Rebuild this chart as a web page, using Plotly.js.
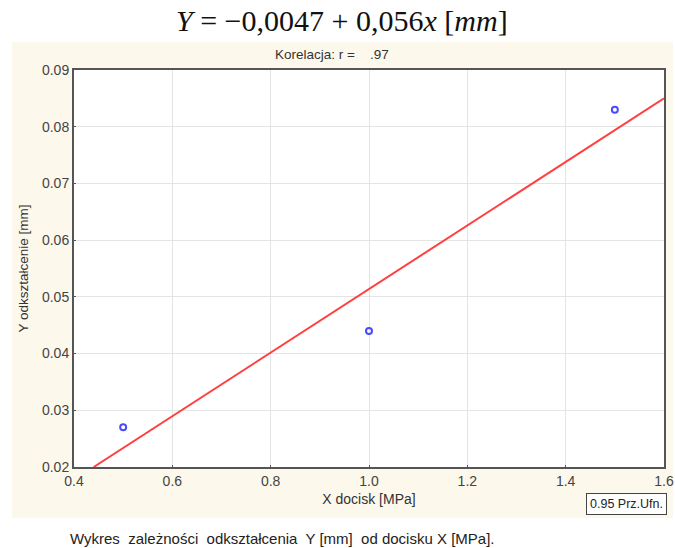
<!DOCTYPE html>
<html>
<head>
<meta charset="utf-8">
<script src="https://cdn.plot.ly/plotly-3.0.1.min.js"></script>
<style>html,body{margin:0;padding:0;background:#fff;}#chart{width:675px;height:548px;}</style>
</head>
<body>
<div id="chart"></div>
<script>
// Data
const pressureMPa = [0.5, 1.0, 1.5];
const deformationMm = [0.027, 0.044, 0.083];
const fitX = [0.44, 1.6];
const fitY = [0.02, 0.085];
const xTicks = [0.4, 0.6, 0.8, 1.0, 1.2, 1.4, 1.6];
const xTickLabels = ['0.4', '0.6', '0.8', '1.0', '1.2', '1.4', '1.6'];
const yTicks = [0.02, 0.03, 0.04, 0.05, 0.06, 0.07, 0.08, 0.09];
const yTickLabels = ['0.02', '0.03', '0.04', '0.05', '0.06', '0.07', '0.08', '0.09'];

const W = 675, H = 548, L = 74, R = 11, T = 70, B = 81;
const pw = W - L - R, ph = H - T - B;
const px = x => (x - L) / pw;
const py = y => (H - B - y) / ph;

const traces = [
  {x: fitX, y: fitY, mode: 'lines', line: {color: '#ff4040', width: 2}, hoverinfo: 'skip'},
  {x: pressureMPa, y: deformationMm, mode: 'markers',
   marker: {symbol: 'circle-open', size: 6, color: '#4a4aff', line: {width: 2, color: '#4a4aff'}}}
];

const sans = 'Liberation Sans, Arial, sans-serif';
const layout = {
  width: W, height: H,
  margin: {l: L, r: R, t: T, b: B},
  paper_bgcolor: '#ffffff',
  plot_bgcolor: 'rgba(0,0,0,0)',
  showlegend: false,
  font: {family: sans, size: 14, color: '#444'},
  xaxis: {
    range: [0.4, 1.6], tickvals: xTicks, ticktext: xTickLabels,
    showgrid: true, gridcolor: '#e4e4e4', gridwidth: 1,
    showline: true, linecolor: '#555', linewidth: 2, mirror: true,
    ticks: 'inside', ticklen: 2, tickcolor: '#555', zeroline: false,
    tickfont: {family: sans, size: 14, color: '#444'},
    title: {text: 'X docisk [MPa]', font: {family: sans, size: 14, color: '#333'}, standoff: 6}
  },
  yaxis: {
    range: [0.02, 0.09], tickvals: yTicks, ticktext: yTickLabels,
    showgrid: true, gridcolor: '#e4e4e4', gridwidth: 1,
    showline: true, linecolor: '#555', linewidth: 2, mirror: true,
    ticks: 'inside', ticklen: 2, tickcolor: '#555', zeroline: false,
    tickfont: {family: sans, size: 14, color: '#444'},
    title: {text: 'Y odkształcenie [mm]', font: {family: sans, size: 13.5, color: '#333'}, standoff: 10}
  },
  shapes: [
    {type: 'rect', xref: 'paper', yref: 'paper', layer: 'below',
     x0: px(12), x1: px(673), y0: py(518), y1: py(42),
     fillcolor: '#fdf8ec', line: {width: 0}},
    {type: 'rect', xref: 'paper', yref: 'paper', layer: 'below',
     x0: 0, x1: 1, y0: 0, y1: 1, fillcolor: '#ffffff', line: {width: 0}}
  ],
  annotations: [
    {xref: 'paper', yref: 'paper', x: px(342), y: py(20), xanchor: 'center', yanchor: 'middle',
     showarrow: false, text: '<i>Y</i> = −0,0047 + 0,056<i>x</i> [<i>mm</i>]',
     font: {family: 'Liberation Serif, DejaVu Serif, serif', size: 30, color: '#111'}},
    {xref: 'paper', yref: 'paper', x: px(332), y: py(55), xanchor: 'center', yanchor: 'middle',
     showarrow: false, text: 'Korelacja: r =\u00a0\u00a0\u00a0 .97',
     font: {family: sans, size: 13.5, color: '#333'}},
    {xref: 'paper', yref: 'paper', x: px(586), y: py(504), xanchor: 'left', yanchor: 'middle',
     showarrow: false, text: '0.95 Prz.Ufn.',
     bgcolor: '#ffffff', bordercolor: '#444', borderwidth: 1, borderpad: 3,
     font: {family: sans, size: 12.5, color: '#222'}},
    {xref: 'paper', yref: 'paper', x: px(68), y: py(538), xanchor: 'left', yanchor: 'middle',
     showarrow: false,
     text: 'Wykres\u00a0 zależności\u00a0 odkształcenia\u00a0 Y [mm]\u00a0 od docisku X [MPa].',
     font: {family: sans, size: 15, color: '#222'}}
  ]
};

Plotly.newPlot('chart', traces, layout, {displayModeBar: false, staticPlot: true});
</script>
</body>
</html>
